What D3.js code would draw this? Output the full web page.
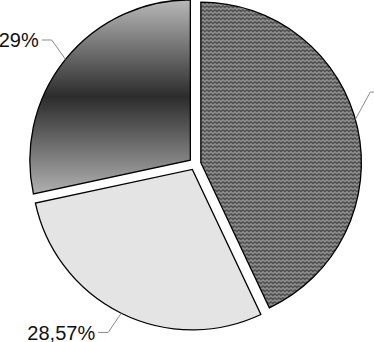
<!DOCTYPE html>
<html>
<head>
<meta charset="utf-8">
<script src="https://cdn.jsdelivr.net/npm/d3@7"></script>
<style>
  html, body { margin: 0; padding: 0; background: #fff; overflow: hidden; }
  svg { display: block; }
  .pct-label { font-family: "Liberation Sans", Arial, sans-serif; font-size: 20px; fill: #111; }
</style>
</head>
<body>
<div class="chart"></div>
<script>
// slices, clockwise from 12 o'clock
const categories = ['A', 'B', 'C'];
const values = [42.86, 28.57, 28.29];
const labels = ['42,86%', '28,57%', '28,29%'];

const width = 374;
const height = 342;
const cx = 195, cy = 164;
const radius = 160.5;
const explode = 6;
// Excel pushes some labels round a bit so they fit
const labelNudge = [-10, 1, 2]; // degrees

const svg = d3.select('.chart')
  .append('svg')
  .attr('width', width)
  .attr('height', height);

const defs = svg.append('defs');

// zigzag / weave pattern for the big slice
const pat = defs.append('pattern')
  .attr('id', 'weave')
  .attr('patternUnits', 'userSpaceOnUse')
  .attr('width', 8)
  .attr('height', 8);
pat.append('rect').attr('width', 8).attr('height', 8).attr('fill', '#444');
pat.append('path')
  .attr('d', 'M0,3 L2,1 L4,3 L6,1 L8,3 M0,7 L2,5 L4,7 L6,5 L8,7')
  .attr('fill', 'none')
  .attr('stroke', '#a0a0a0')
  .attr('stroke-width', 1.3);

// vertical gradient light -> dark -> light
const grad = defs.append('linearGradient')
  .attr('id', 'band')
  .attr('x1', 0).attr('y1', 0).attr('x2', 0).attr('y2', 1);
grad.append('stop').attr('offset', '0%').attr('stop-color', '#b8b8b8');
grad.append('stop').attr('offset', '50%').attr('stop-color', '#2c2c2c');
grad.append('stop').attr('offset', '100%').attr('stop-color', '#b0b0b0');

const fills = ['url(#weave)', '#e4e4e4', 'url(#band)'];

const pie = d3.pie().sort(null).value(d => d)(values);
const arc = d3.arc().innerRadius(0).outerRadius(radius);

const g = svg.append('g').attr('transform', `translate(${cx},${cy})`);

const mid = d => (d.startAngle + d.endAngle) / 2;
const polar = (a, r) => [Math.sin(a) * r, -Math.cos(a) * r];

const slice = g.selectAll('g.slice')
  .data(pie)
  .join('g')
  .attr('class', 'slice')
  .attr('transform', d => {
    const [x, y] = polar(mid(d), explode);
    return `translate(${x},${y})`;
  });

slice.append('path')
  .attr('d', arc)
  .attr('fill', (d, i) => fills[i])
  .attr('stroke', '#000')
  .attr('stroke-width', 1.3)
  .attr('stroke-linejoin', 'miter');

// leader lines + labels
slice.each(function(d, i) {
  const a = mid(d);
  const a2 = a + labelNudge[i] * Math.PI / 180;
  const p0 = polar(a - (i === 0 ? 3 : 0) * Math.PI / 180, radius);
  const p1 = polar(a2, radius + 23);
  const right = Math.sin(a2) > 0;
  const p2 = [p1[0] + (right ? 10 : -10), p1[1]];

  d3.select(this).append('polyline')
    .attr('points', [p0, p1, p2].map(p => p.join(',')).join(' '))
    .attr('fill', 'none')
    .attr('stroke', '#8a8a8a')
    .attr('stroke-width', 1);

  d3.select(this).append('text')
    .attr('class', 'pct-label')
    .attr('x', p2[0] + (right ? 3 : -3))
    .attr('y', p2[1])
    .attr('dy', '0.36em')
    .attr('text-anchor', right ? 'start' : 'end')
    .text(labels[i]);
});
</script>
</body>
</html>
